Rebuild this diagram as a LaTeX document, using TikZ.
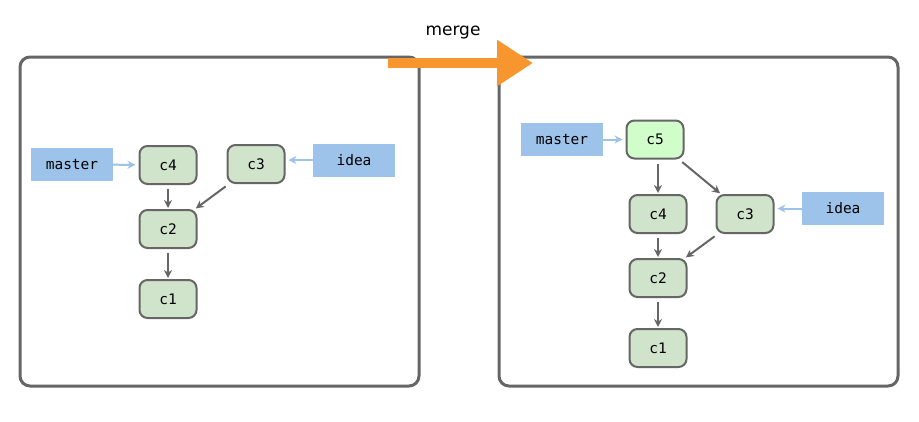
\documentclass[tikz,border=0pt]{standalone}
\usepackage{fontspec}
\setmonofont{DejaVu Sans Mono}
\newfontfamily\mergefont{DejaVu Sans}
\usetikzlibrary{arrows.meta,positioning}
\definecolor{framegray}{HTML}{666666}
\definecolor{commitgreen}{HTML}{D0E4CC}
\definecolor{mergedgreen}{HTML}{D1FDCB}
\definecolor{branchblue}{HTML}{9DC3EA}
\definecolor{brushorange}{HTML}{F7962F}

\tikzset{
  repo/.style={draw=framegray,line width=3pt,rounded corners=10pt},
  commit/.style={draw=framegray,fill=commitgreen,line width=2pt,rounded corners=8pt,minimum width=57pt,minimum height=38pt},
  branch/.style={fill=branchblue,minimum width=82pt,minimum height=33pt},
  parent/.style={-{Stealth[length=8pt,width=8pt]},framegray,line width=2pt,shorten <=4pt,shorten >=1pt},
  pointer/.style={-{Stealth[length=8pt,width=8pt]},branchblue,line width=2pt,shorten >=3pt}
}

\begin{document}
\begin{tikzpicture}[x=1pt,y=-1pt,node distance=24pt and 26pt,font=\ttfamily\fontsize{14.5}{17}\selectfont]
\useasboundingbox (0,0) rectangle (919,421);
% before
\draw[repo] (20,57) rectangle (419,386);
\node[commit] (lc4) at (168,165) {c4};
\node[commit] (lc3) at (256,164) {c3};
\node[commit,below=24pt of lc4] (lc2) {c2};
\node[commit,below=30pt of lc2] (lc1) {c1};
\node[branch] (lmaster) at (72,164.5) {master};
\node[branch] (lidea) at (354,160) {idea};
\foreach \a/\b in {lc4/lc2,lc3/lc2,lc2/lc1}{\draw[parent] (\a)--(\b);}
\draw[pointer] (lmaster)--(lc4);
\draw[pointer] (lidea.west)--(lc3.east|-lidea.west);
% after
\draw[repo] (499,57) rectangle (898,386);
\node[commit,fill=mergedgreen] (rc5) at (655,139.5) {c5};
\node[commit] (rc4) at (658,214) {c4};
\node[commit] (rc3) at (745,214) {c3};
\node[commit,below=24pt of rc4] (rc2) {c2};
\node[commit,below=30pt of rc2] (rc1) {c1};
\node[branch] (rmaster) at (562,139.5) {master};
\node[branch] (ridea) at (843,208.5) {idea};
\draw[parent] (rc5.south-|rc4)--(rc4);
\foreach \a/\b in {rc5/rc3,rc4/rc2,rc3/rc2,rc2/rc1}{\draw[parent] (\a)--(\b);}
\draw[pointer] (rmaster)--(rc5);
\draw[pointer] (ridea.west)--(rc3.east|-ridea.west);
% merge
\coordinate (mergeL) at (388,63);
\coordinate (mergeR) at (533,63);
\draw[brushorange,line width=10pt,-{Triangle[length=36pt,width=44pt]}] (mergeL)--(mergeR);
\node[font=\mergefont\fontsize{17}{20}\selectfont] (mergelabel) at (453,33) {merge};
\end{tikzpicture}
\end{document}
